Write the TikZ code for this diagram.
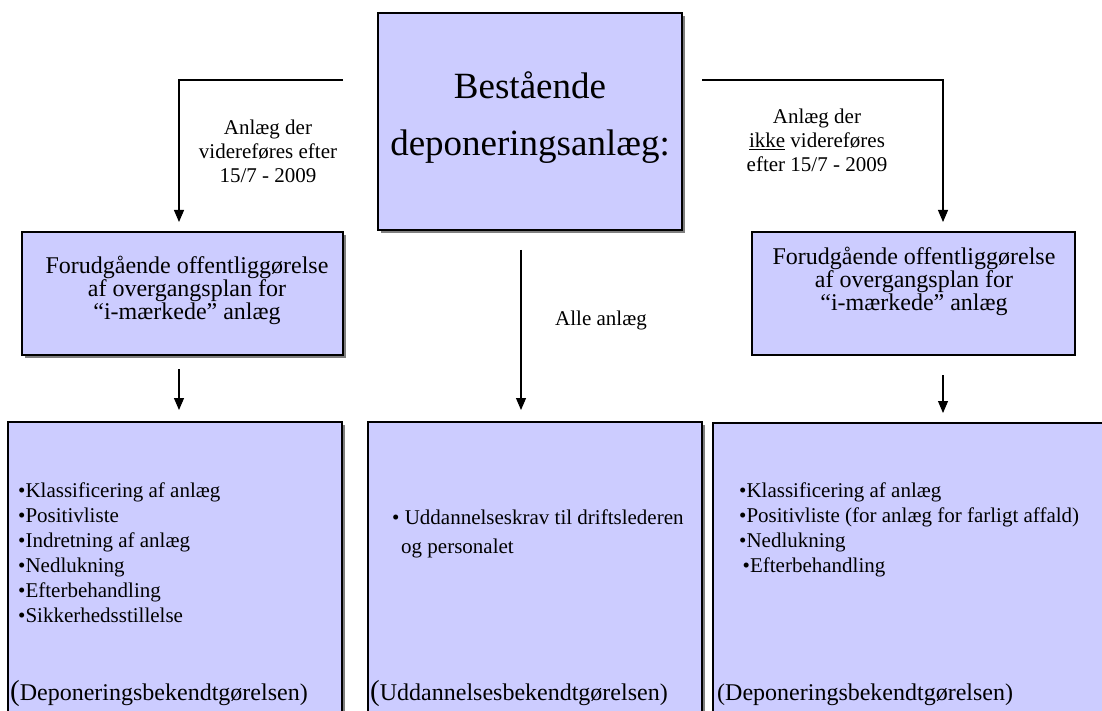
\documentclass[tikz,border=0pt]{standalone}
\usepackage{fontspec}
\setmainfont{Liberation Serif}
\usetikzlibrary{arrows.meta,shadows}
\definecolor{boxfill}{HTML}{CCCCFF}
\definecolor{shadowgray}{HTML}{7F7F7F}
\tikzset{
  box/.style={draw=black, line width=1.1pt, fill=boxfill, inner sep=0pt},
  shbox/.style={box, drop shadow={shadow xshift=3pt, shadow yshift=-3pt, fill=shadowgray, opacity=1}},
  conn/.style={line width=1.1pt, -{Triangle[width=10pt,length=12pt]}},
  lbl/.style={align=center, font=\fontsize{21}{24}\selectfont, inner sep=0pt},
  midtxt/.style={align=center, font=\fontsize{24}{23}\selectfont, inner sep=0pt},
  listtxt/.style={align=left, font=\fontsize{21}{25}\selectfont, inner sep=0pt, anchor=north west},
  srctxt/.style={font=\fontsize{24}{25}\selectfont, inner sep=0pt, anchor=base west},
}
\newcommand{\bigparen}{{\fontsize{29}{29}\selectfont(}}
\begin{document}
\begin{tikzpicture}[x=1pt,y=-1pt]
\useasboundingbox (0,0) rectangle (1102,711);
\clip (0,0) rectangle (1102,711);

% top box
\node[shbox, minimum width=304pt, minimum height=217pt] (top) at (530,121.5) {};
\node[align=center, font=\fontsize{37}{57}\selectfont, inner sep=0pt] (toptxt) at (530,118) {Bestående\\deponeringsanlæg:};

% middle row boxes
\node[shbox, minimum width=321pt, minimum height=123pt] (lm) at (182.5,293.5) {};
\node[midtxt] (lmtxt) at (187,290) {Forudgående offentliggørelse\\af overgangsplan for\\“i-mærkede” anlæg};
\node[box, minimum width=323pt, minimum height=123pt] (rm) at (913.5,293.5) {};
\node[midtxt] (rmtxt) at (914,281) {Forudgående offentliggørelse\\af overgangsplan for\\“i-mærkede" anlæg};

% bottom boxes
\node[shbox, minimum width=334pt, minimum height=320pt] (lb) at (175,582) {};
\node[shbox, minimum width=334pt, minimum height=320pt] (mb) at (535,582) {};
\node[box, minimum width=410pt, minimum height=320pt] (rb) at (918,583) {};

% connectors
\coordinate (ls) at (343,80);
\coordinate (lt) at (179,222);
\coordinate (rs) at (702,80);
\coordinate (rt) at (943,222);
\coordinate (cs) at (521,250);
\coordinate (ct) at (521,410);
\coordinate (la) at (179,369);
\coordinate (lat) at (179,410);
\coordinate (ra) at (943,375);
\coordinate (rat) at (943,413);
\draw[conn] (ls) -| (lt);
\draw[conn] (rs) -| (rt);
\draw[conn] (cs) -- (ct);
\draw[conn] (la) -- (lat);
\draw[conn] (ra) -- (rat);

% labels
\node[lbl] (ll) at (268,151) {Anlæg der\\videreføres efter\\15/7 - 2009};
\node[lbl] (rl) at (817,140) {Anlæg der\\\underline{ikke} videreføres\\efter 15/7 - 2009};
\node[lbl, anchor=west] (cl) at (555,320) {Alle anlæg};

% bottom texts
\node[listtxt] (lbl1) at (18,483) {•Klassificering af anlæg\\•Positivliste\\•Indretning af anlæg\\•Nedlukning\\•Efterbehandling\\•Sikkerhedsstillelse};
\node[srctxt] (lbs) at (10,700) {\bigparen Deponeringsbekendtgørelsen)};

\node[listtxt, font=\fontsize{21}{29}\selectfont] (mbl1) at (392,510) {• Uddannelseskrav til driftslederen\\\hspace*{9pt}og personalet};
\node[srctxt] (mbs) at (370,700) {\bigparen Uddannelsesbekendtgørelsen)};

\node[listtxt] (rbl1) at (739,483) {•Klassificering af anlæg\\•Positivliste (for anlæg for farligt affald)\\•Nedlukning\\\,•Efterbehandling};
\node[srctxt] (rbs) at (717,700) {(Deponeringsbekendtgørelsen)};
\end{tikzpicture}
\end{document}
